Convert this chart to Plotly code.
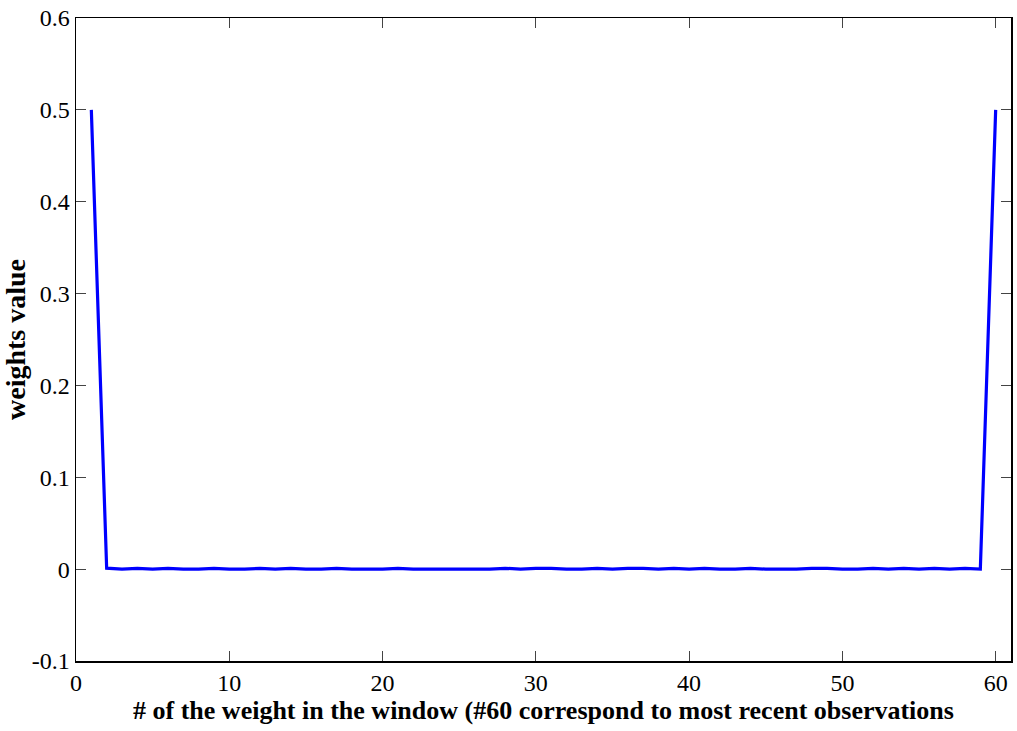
import plotly.graph_objects as go

# weight index 1..60
weight_index = list(range(1, 61))
# weights values
weights_value = [
    0.5, 0.0010, 0.0000, 0.0009, 0.0000, 0.0009, 0.0000, 0.0000, 0.0009, 0.0000,
    0.0000, 0.0009, 0.0000, 0.0009, 0.0000, 0.0000, 0.0009, 0.0000, 0.0000, 0.0000,
    0.0009, 0.0000, 0.0000, 0.0000, 0.0000, 0.0000, 0.0000, 0.0009, 0.0000, 0.0009,
    0.0009, 0.0000, 0.0000, 0.0009, 0.0000, 0.0009, 0.0009, 0.0000, 0.0009, 0.0000,
    0.0009, 0.0000, 0.0000, 0.0009, 0.0000, 0.0000, 0.0000, 0.0009, 0.0009, 0.0000,
    0.0000, 0.0009, 0.0000, 0.0009, 0.0000, 0.0009, 0.0000, 0.0009, 0.0000, 0.5,
]
x_ticks = [0, 10, 20, 30, 40, 50, 60]
y_ticks = [-0.1, 0, 0.1, 0.2, 0.3, 0.4, 0.5, 0.6]
y_tick_text = ["-0.1", "0", "0.1", "0.2", "0.3", "0.4", "0.5", "0.6"]

font_family = "Liberation Serif, Times New Roman, serif"

fig = go.Figure()
fig.add_trace(go.Scatter(
    x=weight_index, y=weights_value, mode="lines",
    line=dict(color="#0000FF", width=3.2, simplify=False),
    showlegend=False, hoverinfo="skip",
))

axis_common = dict(
    showgrid=False, zeroline=False,
    showline=True, linecolor="black", linewidth=1.5, mirror="ticks",
    ticks="inside", ticklen=10, tickwidth=1, tickcolor="#444444",
    tickfont=dict(family=font_family, size=24, color="black"),
)

fig.update_layout(
    width=1017, height=731,
    margin=dict(l=76, r=4, t=18, b=70),
    paper_bgcolor="white", plot_bgcolor="white",
    font=dict(family=font_family, color="black"),
    xaxis=dict(
        range=[0, 61], tickvals=x_ticks, ticktext=[str(v) for v in x_ticks],
        title=dict(text="<b># of the weight in the window (#60 correspond to most recent observations</b>",
                   font=dict(family=font_family, size=26, color="black"), standoff=4),
        **axis_common,
    ),
    yaxis=dict(
        range=[-0.1, 0.6], tickvals=y_ticks, ticktext=y_tick_text,
        ticklabelstandoff=0,
        title=dict(text="<b>weights value</b>",
                   font=dict(family=font_family, size=28, color="black"), standoff=4),
        **axis_common,
    ),
)

fig.write_html("out.html",
               config={"displayModeBar": False, "staticPlot": True},
               post_script="document.body.style.margin='0';document.body.style.overflow='hidden';")
